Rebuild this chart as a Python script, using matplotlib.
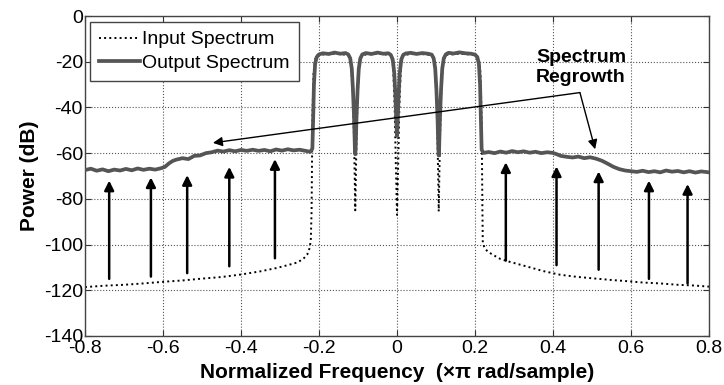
"""Input vs output spectrum of a 4-channel signal, showing spectrum regrowth."""

import matplotlib

matplotlib.use("Agg")
import matplotlib.pyplot as plt

plt.rcParams["font.family"] = ["Liberation Sans", "DejaVu Sans"]
plt.rcParams["axes.unicode_minus"] = False

# Output spectrum, normalized freq (x pi) vs dB.
out_freq = [
    -0.800, -0.785, -0.770, -0.755, -0.740, -0.725, -0.710, -0.695, -0.680, -0.665,
    -0.650, -0.635, -0.620, -0.605, -0.595, -0.585, -0.575, -0.565, -0.550, -0.535,
    -0.520, -0.505, -0.490, -0.475, -0.460, -0.445, -0.430, -0.415, -0.400, -0.385,
    -0.370, -0.355, -0.340, -0.325, -0.310, -0.295, -0.280, -0.265, -0.250, -0.235,
    -0.222, -0.217,
    -0.215, -0.213, -0.210, -0.206, -0.200, -0.190, -0.175, -0.160, -0.145, -0.132,
    -0.125, -0.120, -0.116, -0.113, -0.110, -0.108, -0.107, -0.106, -0.104, -0.101,
    -0.098, -0.094, -0.089, -0.080, -0.065, -0.050, -0.035, -0.022, -0.016, -0.011,
    -0.007, -0.004, -0.002, 0.000, 0.002, 0.004, 0.007, 0.011, 0.016, 0.022,
    0.035, 0.050, 0.065, 0.080, 0.089, 0.094, 0.098, 0.101, 0.104, 0.106,
    0.107, 0.108, 0.110, 0.113, 0.116, 0.120, 0.125, 0.132, 0.145, 0.160,
    0.175, 0.190, 0.200, 0.206, 0.210, 0.213, 0.215, 0.217,
    0.222, 0.235, 0.250, 0.265, 0.280, 0.295, 0.310, 0.325, 0.340, 0.355,
    0.370, 0.385, 0.400, 0.410, 0.420, 0.435, 0.450, 0.465, 0.480, 0.495,
    0.510, 0.525, 0.540, 0.555, 0.570, 0.585, 0.600, 0.615, 0.630, 0.645,
    0.660, 0.675, 0.690, 0.705, 0.720, 0.735, 0.750, 0.765, 0.780, 0.800,
]
out_db = [
    -67.4, -66.8, -67.7, -67.1, -67.9, -67.2, -67.6, -66.9, -67.5, -66.7,
    -67.3, -66.8, -67.2, -66.6, -66.0, -64.5, -63.4, -62.8, -62.2, -62.6,
    -61.2, -61.0, -60.0, -59.6, -58.9, -59.3, -58.7, -59.2, -58.6, -59.0,
    -58.5, -59.0, -58.6, -59.2, -58.4, -58.9, -58.3, -58.8, -58.5, -59.0,
    -59.4, -58.0,
    -45.0, -30.0, -21.0, -18.0, -16.8, -16.3, -16.6, -16.0, -16.5, -16.2,
    -16.8, -18.5, -23.0, -32.0, -45.0, -58.0, -60.5, -58.0, -45.0, -32.0,
    -23.0, -18.5, -16.8, -16.2, -16.6, -16.0, -16.5, -16.3, -17.0, -19.0,
    -25.0, -35.0, -45.0, -52.5, -45.0, -35.0, -25.0, -19.0, -17.0, -16.4,
    -16.1, -16.6, -16.2, -16.5, -16.9, -18.5, -23.0, -32.0, -45.0, -58.0,
    -61.0, -58.0, -45.0, -32.0, -23.0, -18.5, -16.8, -16.1, -16.4, -15.9,
    -16.3, -16.5, -16.9, -18.0, -21.0, -30.0, -45.0, -58.5,
    -59.9, -59.5, -60.0, -59.3, -59.8, -59.1, -59.6, -59.2, -59.8, -59.4,
    -60.0, -59.6, -59.9, -60.5, -61.2, -61.6, -61.9, -61.5, -62.2, -61.8,
    -62.4, -63.3, -64.6, -66.0, -67.0, -67.6, -67.9, -68.2, -67.7, -68.3,
    -67.9, -68.4, -67.6, -68.1, -67.8, -68.4, -67.9, -68.5, -68.0, -68.4,
]

# Input spectrum (dotted)
in_freq = [
    -0.800, -0.750, -0.700, -0.650, -0.600, -0.550, -0.500, -0.450, -0.400, -0.350,
    -0.310, -0.280, -0.255, -0.240, -0.230, -0.224, -0.221, -0.219, -0.218, -0.217,
    -0.214, -0.210, -0.204, -0.160, -0.125, -0.118, -0.113, -0.110, -0.108, -0.107,
    -0.106, -0.104, -0.101, -0.096, -0.089, -0.050, -0.016, -0.010, -0.006, -0.003,
    0.000, 0.003, 0.006, 0.010, 0.016, 0.050, 0.089, 0.096, 0.101, 0.104,
    0.106, 0.107, 0.108, 0.110, 0.113, 0.118, 0.125, 0.160, 0.204, 0.210,
    0.214, 0.217, 0.218, 0.219, 0.220, 0.225, 0.232, 0.246, 0.265, 0.290,
    0.333, 0.375, 0.418, 0.460, 0.504, 0.550, 0.589, 0.630, 0.675, 0.720,
    0.760, 0.800,
]
in_db = [
    -118.6, -118.0, -117.6, -117.0, -116.3, -115.7, -114.9, -114.2, -113.1, -111.7,
    -110.3, -109.0, -107.8, -106.2, -104.3, -101.5, -98.0, -85.0, -65.0, -45.0,
    -25.0, -19.0, -17.0, -16.5, -17.0, -20.0, -35.0, -55.0, -75.0, -85.0,
    -75.0, -55.0, -35.0, -20.0, -17.0, -16.5, -17.0, -22.0, -40.0, -65.0,
    -87.0, -65.0, -40.0, -22.0, -17.0, -16.5, -17.0, -20.0, -35.0, -55.0,
    -75.0, -85.5, -75.0, -55.0, -35.0, -20.0, -17.0, -16.5, -17.0, -19.0,
    -25.0, -45.0, -65.0, -85.0, -99.5, -101.5, -103.0, -104.5, -106.3, -107.6,
    -109.6, -111.6, -113.2, -114.1, -114.8, -115.5, -116.0, -116.6, -117.0, -117.6,
    -117.9, -118.4,
]

# Upward arrows marking the regrowth (tail on input, head near output)
arrow_freq = [-0.738, -0.631, -0.538, -0.430, -0.313, 0.279, 0.409, 0.517, 0.646, 0.745]
arrow_base = [-115.0, -114.0, -112.5, -109.5, -106.0, -107.0, -109.0, -111.0, -115.0, -117.0]
arrow_tip = [-72.0, -70.6, -69.6, -66.0, -62.6, -64.0, -65.8, -68.0, -72.0, -73.5]

label_text = "Spectrum\nRegrowth"
label_pos = (0.472, -22.5)
label_from = (0.469, -33.5)
label_targets = [(-0.472, -55.5), (0.508, -58.3)]

xticks = [-0.8, -0.6, -0.4, -0.2, 0, 0.2, 0.4, 0.6, 0.8]
xticklabels = ["-0.8", "-0.6", "-0.4", "-0.2", "0", "0.2", "0.4", "0.6", "0.8"]
yticks = [0, -20, -40, -60, -80, -100, -120, -140]

fig = plt.figure(figsize=(7.24, 3.85), dpi=100)
ax = fig.add_axes([0.1174, 0.1273, 0.8619, 0.8311])

ax.plot(in_freq, in_db, ls=":", color="black", lw=1.4, label="Input Spectrum", zorder=2)
ax.plot(out_freq, out_db, ls="-", color="#555555", lw=2.7, label="Output Spectrum", zorder=3)

for f, b, t in zip(arrow_freq, arrow_base, arrow_tip):
    ax.annotate("", xy=(f, t), xytext=(f, b),
                arrowprops=dict(arrowstyle="-|>", color="black", lw=1.8,
                                mutation_scale=14, shrinkA=0, shrinkB=0),
                zorder=4)

ax.text(*label_pos, label_text, ha="center", va="center", fontsize=14,
        fontweight="bold", linespacing=1.2, zorder=5)
for tgt in label_targets:
    ax.annotate("", xy=tgt, xytext=label_from,
                arrowprops=dict(arrowstyle="-|>", color="black", lw=1.0,
                                mutation_scale=14, shrinkA=0, shrinkB=0),
                zorder=5)

ax.set_xlim(-0.8, 0.8)
ax.set_ylim(-140, 0)
ax.set_xticks(xticks)
ax.set_yticks(yticks)
ax.set_xticklabels(xticklabels)
ax.tick_params(direction="in", top=True, right=True, length=4, width=0.8,
               labelsize=14, colors="#333333", labelcolor="black")
ax.tick_params(axis="x", pad=3)
ax.tick_params(axis="y", pad=1.5)
ax.grid(True, ls=":", color="#555555", lw=0.8)
for sp in ax.spines.values():
    sp.set_color("#444444")
    sp.set_linewidth(1.0)

ax.set_xlabel("Normalized Frequency  (\u00d7\u03c0 rad/sample)", fontsize=15,
              fontweight="bold", labelpad=4)
ax.set_ylabel("Power (dB)", fontsize=15, fontweight="bold", labelpad=3)

leg = ax.legend(loc="upper left", bbox_to_anchor=(0.008, 0.981), borderaxespad=0,
                fontsize=14, fancybox=False, framealpha=1, edgecolor="#444444",
                handlelength=2.1, handletextpad=0.15, borderpad=0.45, labelspacing=0.3)
leg.get_frame().set_linewidth(1.0)

fig.savefig("out.png", dpi=100)
